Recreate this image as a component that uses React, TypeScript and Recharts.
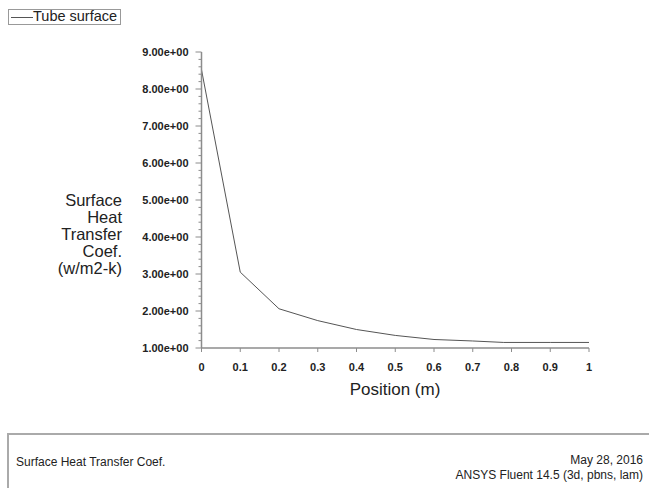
import React from 'react';
import { LineChart, Line, XAxis, YAxis } from 'recharts';

const POSITIONS = [0, 0.1, 0.2, 0.3, 0.4, 0.5, 0.6, 0.7, 0.78, 0.9, 1];
const HTC_VALUES = [8.52, 3.05, 2.06, 1.74, 1.5, 1.34, 1.23, 1.19, 1.15, 1.15, 1.15];

const X_TICKS = [0, 0.1, 0.2, 0.3, 0.4, 0.5, 0.6, 0.7, 0.8, 0.9, 1];
const Y_MAJOR_TICKS = [1, 2, 3, 4, 5, 6, 7, 8, 9];
// minor ticks every 0.2 between the majors
const Y_TICKS = Y_MAJOR_TICKS.flatMap((v, i) =>
  i === Y_MAJOR_TICKS.length - 1 ? [v] : [v, v + 0.2, v + 0.4, v + 0.6, v + 0.8]
);

const Y_LABEL_LINES = ['Surface', 'Heat', 'Transfer', 'Coef.', '(w/m2-k)'];

const data = POSITIONS.map((x, i) => ({ x, value: HTC_VALUES[i] }));

const FONT = 'Arial, "Liberation Sans", sans-serif';
const AXIS_GREY = '#8c8c8c';

const isMajor = (v: number) => Math.abs(v - Math.round(v)) < 1e-6;

function YTick(props: any) {
  const { x, y, payload } = props;
  const v = payload.value as number;
  const major = isMajor(v);
  return (
    <g>
      <line x1={x - (major ? 6 : 3)} x2={x} y1={y} y2={y} stroke={AXIS_GREY} strokeWidth={1} />
      {major && (
        <text x={x - 13} y={y + 4} textAnchor="end" fontSize={11} fontWeight="bold"
          fontFamily={FONT} fill="#222">
          {v.toFixed(2) + 'e+00'}
        </text>
      )}
    </g>
  );
}

function XTick(props: any) {
  const { x, y, payload } = props;
  const v = payload.value as number;
  return (
    <g>
      <line x1={x} x2={x} y1={y} y2={y + 4} stroke={AXIS_GREY} strokeWidth={1} />
      <text x={x} y={y + 23} textAnchor="middle" fontSize={11} fontWeight="bold"
        fontFamily={FONT} fill="#222">
        {String(Math.round(v * 10) / 10)}
      </text>
    </g>
  );
}

export default function App() {
  return (
    <div style={{ position: 'absolute', left: 0, top: 0, width: 649, height: 488,
      overflow: 'hidden', background: '#fff', fontFamily: FONT, color: '#222' }}>
      <LineChart width={649} height={488} data={data}
        margin={{ top: 52, right: 60, bottom: 100, left: 121.5 }}>
        <XAxis dataKey="x" type="number" domain={[0, 1]} ticks={X_TICKS} height={40}
          axisLine={{ stroke: AXIS_GREY, strokeWidth: 1.5 }} tickLine={false}
          tickSize={0} tickMargin={0} tick={<XTick />} interval={0} />
        <YAxis type="number" domain={[1, 9]} ticks={Y_TICKS} width={80}
          axisLine={{ stroke: AXIS_GREY, strokeWidth: 1.5 }} tickLine={false}
          tickSize={0} tickMargin={0} tick={<YTick />} interval={0} />
        <Line type="linear" dataKey="value" stroke="#555" strokeWidth={1}
          dot={false} isAnimationActive={false} />
      </LineChart>

      {/* legend */}
      <div style={{ position: 'absolute', left: 8, top: 9, width: 111, height: 14,
        border: '1px solid #999' }}>
        <div style={{ position: 'absolute', left: 2, top: 7, width: 22, height: 1,
          background: '#555' }} />
        <div style={{ position: 'absolute', left: 24, top: -2, fontSize: 14.5,
          lineHeight: '17px', whiteSpace: 'nowrap' }}>Tube surface</div>
      </div>

      {/* y axis title */}
      <div style={{ position: 'absolute', right: 649 - 122, top: 192, textAlign: 'right',
        fontSize: 16.5, lineHeight: '17px', whiteSpace: 'nowrap' }}>
        {Y_LABEL_LINES.map((l) => <div key={l}>{l}</div>)}
      </div>

      {/* x axis title */}
      <div style={{ position: 'absolute', left: 295, width: 200, top: 380, textAlign: 'center',
        fontSize: 17, lineHeight: '20px' }}>Position (m)</div>

      {/* footer box */}
      <div style={{ position: 'absolute', left: 7, top: 433, width: 660, height: 80,
        border: '2px solid #aaa', boxSizing: 'border-box' }} />
      <div style={{ position: 'absolute', left: 16, top: 455, fontSize: 12,
        lineHeight: '14px', whiteSpace: 'nowrap' }}>Surface Heat Transfer Coef.</div>
      <div style={{ position: 'absolute', right: 6, top: 453, fontSize: 12,
        lineHeight: '15px', textAlign: 'right', whiteSpace: 'nowrap' }}>
        <div>May 28, 2016</div>
        <div>ANSYS Fluent 14.5 (3d, pbns, lam)</div>
      </div>
    </div>
  );
}
